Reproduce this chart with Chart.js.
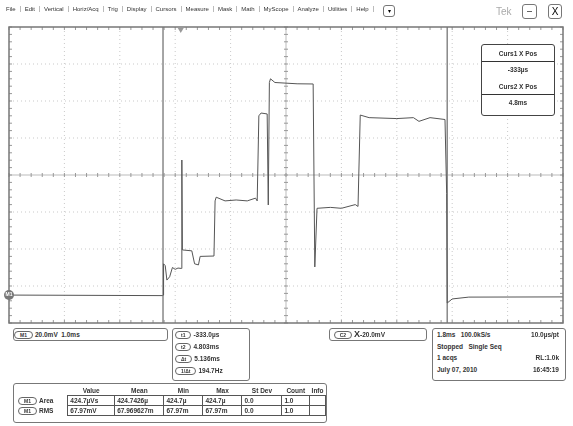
<!DOCTYPE html>
<html><head><meta charset="utf-8">
<script src="https://cdn.jsdelivr.net/npm/chart.js@4"></script>
<style>
body{margin:0;width:573px;height:426px;background:#fff;font-family:"Liberation Sans",Arial,sans-serif;position:relative;overflow:hidden}
#c{position:absolute;left:0;top:0}
.a{position:absolute;font-size:6.5px;color:#333}
.b{font-weight:bold}
.box{position:absolute;border:1px solid #777;border-radius:3px;background:#fff}
.pill{display:inline-block;border:1px solid #666;border-radius:6px;font-size:5px;padding:0 5px;margin-right:2px;line-height:6px}
.menu span{border-right:1px solid #bbb;padding:0 4px}
table{border-collapse:collapse;font-size:6.5px;font-weight:bold;color:#333}
td{padding:0 2px;height:9px}
.g td{border:1px solid #555}
</style></head><body>
<canvas id="c" width="573" height="426"></canvas>
<div class="a menu" style="top:6px;left:2px;font-size:6px">
<span>File</span><span>Edit</span><span>Vertical</span><span>Horiz/Acq</span><span>Trig</span><span>Display</span><span>Cursors</span><span>Measure</span><span>Mask</span><span>Math</span><span>MyScope</span><span>Analyze</span><span>Utilities</span><span>Help</span></div>
<div class="box" style="left:383px;top:5px;width:10px;height:10px;font-size:6px;text-align:center;line-height:10px">▾</div>
<div class="a" style="left:496px;top:6px;font-size:10px;color:#aaa">Tek</div>
<div class="box" style="left:522px;top:4px;width:13px;height:13px;font-size:9px;text-align:center;line-height:12px">–</div>
<div class="box" style="left:548px;top:4px;width:12px;height:13px;font-size:10px;text-align:center;line-height:13px">X</div>
<div class="box" style="left:481px;top:44px;width:72px;height:70px;border-color:#444">
<div class="a b" style="left:0;width:72px;text-align:center;top:5px">Curs1 X Pos</div>
<div style="position:absolute;top:16px;left:0;width:72px;border-top:1px solid #333"></div>
<div class="a b" style="left:0;width:72px;text-align:center;top:21px">-333µs</div>
<div class="a b" style="left:0;width:72px;text-align:center;top:38px">Curs2 X Pos</div>
<div style="position:absolute;top:49px;left:0;width:72px;border-top:1px solid #333"></div>
<div class="a b" style="left:0;width:72px;text-align:center;top:54px">4.8ms</div>
</div>
<div class="box b a" style="left:13px;top:328px;width:153px;height:11px;line-height:11px"><span class="pill">M1</span>20.0mV&nbsp; 1.0ms</div>
<div class="box a b" style="left:172px;top:328px;width:76px;height:51px">
<div style="position:absolute;top:2px;left:2px"><span class="pill">t1</span>-333.0µs</div>
<div style="position:absolute;top:14px;left:2px"><span class="pill">t2</span>4.803ms</div>
<div style="position:absolute;top:26px;left:2px"><span class="pill">Δt</span>5.136ms</div>
<div style="position:absolute;top:38px;left:2px"><span class="pill">1/Δt</span>194.7Hz</div>
</div>
<div class="box a b" style="left:329px;top:328px;width:96px;height:11px;line-height:11px">&nbsp;&nbsp;<span class="pill">C2</span><span style="font-size:9px">X</span>-20.0mV</div>
<div class="box a b" style="left:432px;top:328px;width:128px;height:51px;line-height:11.5px;padding-left:4px">
1.8ms&nbsp;&nbsp; 100.0kS/s<span style="position:absolute;right:6px">10.0µs/pt</span><br>Stopped&nbsp;&nbsp; Single Seq<br>1 acqs<span style="position:absolute;right:6px">RL:1.0k</span><br>July 07, 2010<span style="position:absolute;right:6px">16:45:19</span></div>
<div class="box" style="left:13px;top:383px;width:312px;height:38px">
<table style="position:absolute;left:2px;top:2px">
<tr><td style="width:50px"></td><td style="width:44px;text-align:center">Value</td><td style="width:46px;text-align:center">Mean</td><td style="width:36px;text-align:center">Min</td><td style="width:36px;text-align:center">Max</td><td style="width:38px;text-align:center">St Dev</td><td style="width:24px;text-align:center">Count</td><td>Info</td></tr>
<tr class="g"><td style="border:none"><span class="pill">M1</span>Area</td><td>424.7µVs</td><td>424.7426µ</td><td>424.7µ</td><td>424.7µ</td><td>0.0</td><td>1.0</td><td></td></tr>
<tr class="g"><td style="border:none"><span class="pill">M1</span>RMS</td><td>67.97mV</td><td>67.969627m</td><td>67.97m</td><td>67.97m</td><td>0.0</td><td>1.0</td><td></td></tr>
</table></div>
<script>
const timeMs=[0,2.77,2.78,2.79,2.82,2.85,2.9,2.95,3.0,3.05,3.11,3.12,3.13,3.3,3.35,3.42,3.45,3.7,3.72,3.74,3.9,4.1,4.3,4.45,4.48,4.51,4.55,4.66,4.68,4.70,4.72,4.8,5.2,5.49,5.52,5.56,5.8,6.0,6.25,6.3,6.34,6.5,7.0,7.3,7.4,7.6,7.87,7.9,7.91,8.0,8.3,10];
const voltMv=[-64.9,-65.2,-64.9,-48,-49,-56.8,-55,-50,-51,-50.3,-50.5,8.1,-40.5,-41,-48,-48.6,-44,-43.8,-14,-12,-14,-13.5,-14,-12.5,-14,32,33.5,33,-16.2,50,52,50,49.3,49.2,-49.7,-18,-17.5,-18,-16,-17,32.4,31,30.5,31,29,31,30,-10,-69.2,-67,-66,-65.9];
const cursorsMs=[2.78,7.91];
const pts=timeMs.map((t,i)=>({x:t,y:voltMv[i]}));
const ds=[{data:pts,borderColor:'#555',borderWidth:1,pointRadius:0,tension:0}];
cursorsMs.forEach(c=>ds.push({data:[{x:c,y:-80},{x:c,y:80}],borderColor:'#888',borderWidth:1.5,pointRadius:0}));
const extra={id:'extra',beforeDatasetsDraw(ch){const g=ch.ctx,a=ch.chartArea,xs=ch.scales.x,ys=ch.scales.y;
g.save();g.strokeStyle='#bbb';g.lineWidth=0.8;g.setLineDash([1,3]);
for(let i=1;i<10;i++){if(i===5)continue;const x=xs.getPixelForValue(i);g.beginPath();g.moveTo(x,a.top);g.lineTo(x,a.bottom);g.stroke();}
for(let i=1;i<8;i++){if(i===4)continue;const y=ys.getPixelForValue(-80+i*20);g.beginPath();g.moveTo(a.left,y);g.lineTo(a.right,y);g.stroke();}
g.setLineDash([]);g.strokeStyle='#aaa';const cx=xs.getPixelForValue(5),cy=ys.getPixelForValue(0);
g.beginPath();g.moveTo(cx,a.top);g.lineTo(cx,a.bottom);g.moveTo(a.left,cy);g.lineTo(a.right,cy);g.stroke();
g.strokeStyle='#999';g.lineWidth=1;
for(let i=0;i<=50;i++){const x=xs.getPixelForValue(i*0.2);
[[cy-2,cy+2],[a.top,a.top+3],[a.bottom-3,a.bottom]].forEach(([y1,y2])=>{g.beginPath();g.moveTo(x,y1);g.lineTo(x,y2);g.stroke();});}
for(let i=0;i<=40;i++){const y=ys.getPixelForValue(-80+i*4);
[[cx-2,cx+2],[a.left,a.left+3],[a.right-3,a.right]].forEach(([x1,x2])=>{g.beginPath();g.moveTo(x1,y);g.lineTo(x2,y);g.stroke();});}
g.restore();},
afterDraw(ch){const g=ch.ctx,a=ch.chartArea,xs=ch.scales.x,ys=ch.scales.y;g.save();
g.lineWidth=1.5;g.strokeStyle='#777';g.strokeRect(a.left,a.top,a.right-a.left,a.bottom-a.top);
g.fillStyle='#999';const tx=xs.getPixelForValue(3.1);g.beginPath();g.moveTo(tx-3,a.top+1);g.lineTo(tx+3,a.top+1);g.lineTo(tx,a.top+6);g.fill();
const gy=ys.getPixelForValue(-64.9);g.fillStyle='#777';g.beginPath();g.arc(a.left,gy,5,0,7);g.fill();g.fillStyle='#fff';g.font='bold 5px Liberation Sans';g.textAlign='center';g.textBaseline='middle';g.fillText('M1',a.left,gy);
g.restore();}};
new Chart(document.getElementById('c'),{type:'line',data:{datasets:ds},plugins:[extra],
options:{responsive:false,animation:false,layout:{padding:{left:9,right:10,top:27,bottom:103}},
plugins:{legend:{display:false},tooltip:{enabled:false}},
scales:{x:{type:'linear',display:false,min:0,max:10},
y:{display:false,min:-80,max:80}}}});
</script></body></html>
